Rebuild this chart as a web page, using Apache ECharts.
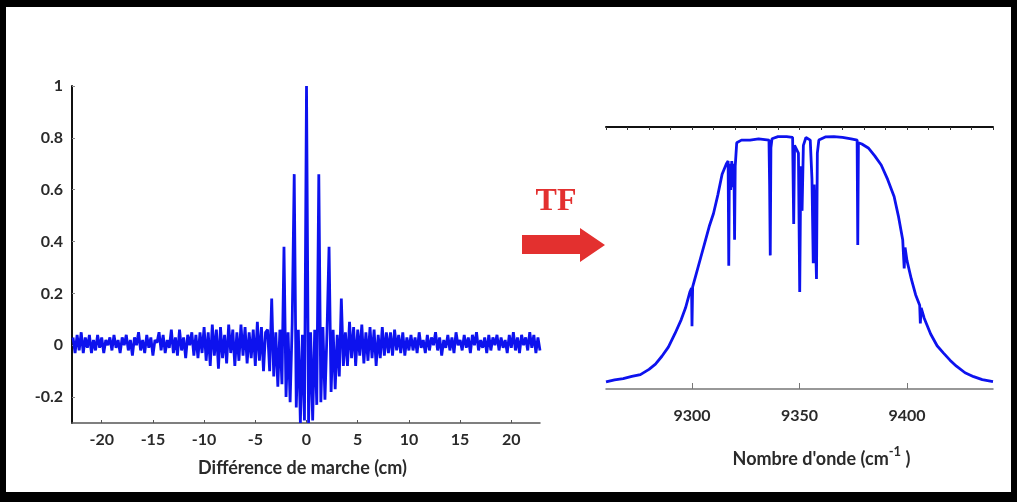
<!DOCTYPE html>
<html>
<head>
<meta charset="utf-8">
<script src="https://cdn.jsdelivr.net/npm/echarts@6/dist/echarts.min.js"></script>
<style>
  html, body { margin: 0; padding: 0; background: #fff; }
  #main { width: 1017px; height: 502px; }
</style>
</head>
<body>
<div id="main"></div>
<script>
// interférogramme : échantillons tous les 0.2 cm à partir de -22.8 cm
var startCm = -22.8;
var stepCm = 0.2;

// -22.8 .. -10.2
var tailLeft = [
  0.03,-0.03,0.04,-0.02,0.05,-0.03,0.03,-0.01,0.04,-0.03,
  0.02,-0.02,0.04,-0.01,0.03,-0.03,0.02,0.00,0.03,-0.02,
  0.04,-0.01,0.02,-0.03,0.03,0.00,0.04,-0.02,0.02,-0.04,
  0.03,0.00,0.05,-0.02,0.02,-0.03,0.04,-0.01,0.03,-0.04,
  0.02,0.01,0.05,-0.02,0.04,-0.03,0.02,-0.01,0.06,-0.03,
  0.03,-0.04,0.06,-0.02,0.03,-0.05,0.04,0.00,0.05,-0.04,
  0.04,-0.05,0.05,-0.03
];
// -10.0 .. -4.0
var wingLeft = [
  0.07,-0.06,0.05,-0.08,0.08,-0.04,0.06,-0.09,0.07,-0.05,
  0.04,-0.07,0.08,-0.03,0.06,-0.08,0.05,-0.06,0.08,-0.04,
  0.07,-0.07,0.05,-0.05,0.06,-0.08,0.09,-0.06,0.07,-0.10,
  0.05
];
// -3.8 .. 3.8 (pic central)
var burst = [
  0.06,-0.10,0.18,-0.12,0.05,-0.16,0.06,-0.15,0.38,-0.20,
  0.05,-0.22,0.08,0.66,-0.24,0.06,-0.30,0.04,-0.29,1.00,
  -0.30,0.05,-0.29,0.06,-0.23,0.66,-0.22,0.07,-0.21,0.05,
  0.38,-0.18,0.06,-0.17,0.04,-0.12,0.18,-0.08,0.05
];
// 4.0 .. 10.0
var wingRight = [
  -0.08,0.09,-0.05,0.07,-0.08,0.06,-0.04,0.08,-0.07,0.05,
  -0.06,0.07,-0.05,0.06,-0.08,0.04,-0.05,0.07,-0.04,0.05,
  -0.03,0.05,-0.04,0.06,-0.02,0.04,-0.03,0.05,-0.04,0.03,
  -0.02
];
// 10.2 .. 22.8
var tailRight = [
  0.04,-0.02,0.03,-0.03,0.05,-0.01,0.02,-0.03,0.04,-0.02,
  0.03,0.00,0.05,-0.02,0.03,-0.04,0.02,-0.01,0.04,-0.02,
  0.03,-0.03,0.05,0.00,0.02,-0.02,0.04,-0.01,0.03,-0.03,
  0.04,0.00,0.05,-0.02,0.02,-0.01,0.03,-0.03,0.04,-0.02,
  0.03,0.00,0.04,-0.02,0.03,-0.01,0.02,-0.03,0.04,-0.01,
  0.05,-0.02,0.03,-0.03,0.04,0.00,0.03,-0.02,0.05,-0.01,
  0.04,-0.03,0.03,-0.02
];

// spectre (nombre d'onde, intensité)
var specWave = [
  9260,9264,9268,9272,9276,9280,9283,9286,9289,9292,
  9295,9297,9299,9299.8,9300,9300.3,9302,9304,9306,9308,
  9310,9312,9314,9316,9316.8,9317.1,9317.4,9318,9318.5,9319,
  9319.5,9319.8,9320.1,9320.8,9323,9327,9331,9335.8,9336.1,9336.4,
  9336.7,9337.2,9340,9344,9346.8,9347.3,9347.7,9349.5,9350.1,9350.6,
  9351.2,9351.8,9353,9355,9355.8,9356.4,9356.8,9357.9,9358.3,9359,
  9362,9366,9370,9374,9376.8,9377.1,9377.4,9379,9382,9385,
  9388,9391,9394,9396,9398,9398.7,9399.1,9400,9402,9404,
  9405.9,9406.2,9406.6,9408,9411,9414,9417,9420,9423,9427,
  9431,9435,9440
];
var specVal = [
  0.027,0.035,0.040,0.048,0.055,0.075,0.095,0.125,0.160,0.210,
  0.265,0.310,0.370,0.385,0.240,0.390,0.440,0.500,0.560,0.620,
  0.670,0.740,0.820,0.860,0.870,0.470,0.860,0.760,0.870,0.770,
  0.860,0.570,0.850,0.940,0.950,0.950,0.955,0.950,0.780,0.510,
  0.920,0.955,0.963,0.963,0.960,0.630,0.930,0.900,0.370,0.850,
  0.680,0.930,0.960,0.950,0.800,0.480,0.780,0.420,0.900,0.950,
  0.962,0.963,0.960,0.955,0.950,0.550,0.940,0.935,0.920,0.890,
  0.855,0.800,0.735,0.660,0.570,0.460,0.540,0.490,0.420,0.360,
  0.320,0.250,0.310,0.270,0.210,0.165,0.137,0.110,0.087,0.062,
  0.047,0.036,0.028
];

var leftTicks = [-20, -15, -10, -5, 0, 5, 10, 15, 20];
var leftYTicks = [-0.2, 0, 0.2, 0.4, 0.6, 0.8, 1];
var rightTicks = [9300, 9350, 9400];

var interfValues = [].concat(tailLeft, wingLeft, burst, wingRight, tailRight);
var interfData = interfValues.map(function (v, i) {
  return [+(startCm + i * stepCm).toFixed(1), v];
});
var specData = specWave.map(function (w, i) { return [w, specVal[i]]; });

var blue = '#0d12ee';
var red = '#e3302f';
var plain = function (v) { return String(v); };
var labelStyle = { fontFamily: 'Lato', fontWeight: 'bold', fontSize: 16, color: '#2a2a2a', formatter: plain };
var titleStyle = { fontFamily: 'Lato', fontWeight: 'bold', fontSize: 18, color: '#2a2a2a' };

var myChart = echarts.init(document.getElementById('main'));

var option = {
  backgroundColor: '#fff',
  animation: false,
  grid: [
    { left: 72, right: 477, top: 86, bottom: 79 },
    { left: 606, right: 24, top: 127, bottom: 113 }
  ],
  xAxis: [
    {
      type: 'value', gridIndex: 0, min: -22.9, max: 22.8,
      name: 'Différence de marche (cm)', nameLocation: 'middle', nameGap: 36,
      nameTextStyle: Object.assign({ padding: [0, 7, 0, 0] }, titleStyle),
      axisLine: { onZero: false, lineStyle: { color: '#555', width: 1.5 } },
      axisTick: { inside: true, length: 3, lineStyle: { color: '#555' }, customValues: leftTicks },
      axisLabel: Object.assign({ margin: 9, customValues: leftTicks }, labelStyle),
      splitLine: { show: false }
    },
    {
      type: 'value', gridIndex: 1, min: 9260, max: 9440,
      name: "Nombre d'onde (cm{sup|-1} )", nameLocation: 'middle', nameGap: 56,
      nameTextStyle: Object.assign({
        padding: [0, 0, 0, 44],
        rich: { sup: { fontFamily: 'Lato', fontWeight: 'bold', fontSize: 13, color: '#2a2a2a', padding: [0, 0, 16, 0] } }
      }, titleStyle),
      axisLine: { onZero: false, lineStyle: { color: '#777', width: 1.5 } },
      axisTick: { inside: true, length: 6, lineStyle: { color: '#777' }, customValues: rightTicks },
      axisLabel: Object.assign({ margin: 19, customValues: rightTicks }, labelStyle),
      splitLine: { show: false }
    },
    {
      type: 'value', gridIndex: 1, position: 'top', min: 9260, max: 9440, interval: 10,
      axisLine: { onZero: false, lineStyle: { color: '#111', width: 2 } },
      axisTick: { inside: true, length: 3, lineStyle: { color: '#333' } },
      axisLabel: { show: false },
      splitLine: { show: false }
    }
  ],
  yAxis: [
    {
      type: 'value', gridIndex: 0, min: -0.3, max: 1,
      axisLine: { show: true, onZero: false, lineStyle: { color: '#111', width: 2 } },
      axisTick: { show: true, inside: true, length: 3, lineStyle: { color: '#888' }, customValues: leftYTicks },
      axisLabel: Object.assign({ margin: 9, customValues: leftYTicks }, labelStyle),
      splitLine: { show: false }
    },
    {
      type: 'value', gridIndex: 1, min: 0, max: 1,
      axisLine: { show: false }, axisTick: { show: false }, axisLabel: { show: false },
      splitLine: { show: false }
    }
  ],
  series: [
    {
      name: 'interferogramme', type: 'line', xAxisIndex: 0, yAxisIndex: 0,
      data: interfData, showSymbol: false, sampling: null,
      lineStyle: { color: blue, width: 2.8, join: 'bevel' }
    },
    {
      name: 'spectre', type: 'line', xAxisIndex: 1, yAxisIndex: 1,
      data: specData, showSymbol: false,
      lineStyle: { color: blue, width: 2.8 }
    }
  ],
  graphic: [
    // cadre noir
    { type: 'rect', shape: { x: 0, y: 0, width: 1017, height: 7 }, style: { fill: '#000' } },
    { type: 'rect', shape: { x: 0, y: 0, width: 6, height: 502 }, style: { fill: '#000' } },
    { type: 'rect', shape: { x: 1011, y: 0, width: 6, height: 502 }, style: { fill: '#000' } },
    { type: 'rect', shape: { x: 0, y: 492, width: 1017, height: 10 }, style: { fill: '#000' } },
    // TF + flèche
    {
      type: 'text', x: 556, y: 202,
      style: { text: 'TF', fill: red, font: 'bold 32px "Liberation Serif", "DejaVu Serif", serif', align: 'center', verticalAlign: 'middle' }
    },
    {
      type: 'polygon',
      shape: { points: [[522, 235], [580, 235], [580, 228], [605, 245], [580, 262], [580, 254], [522, 254]] },
      style: { fill: red }
    }
  ]
};

myChart.setOption(option);
</script>
</body>
</html>
